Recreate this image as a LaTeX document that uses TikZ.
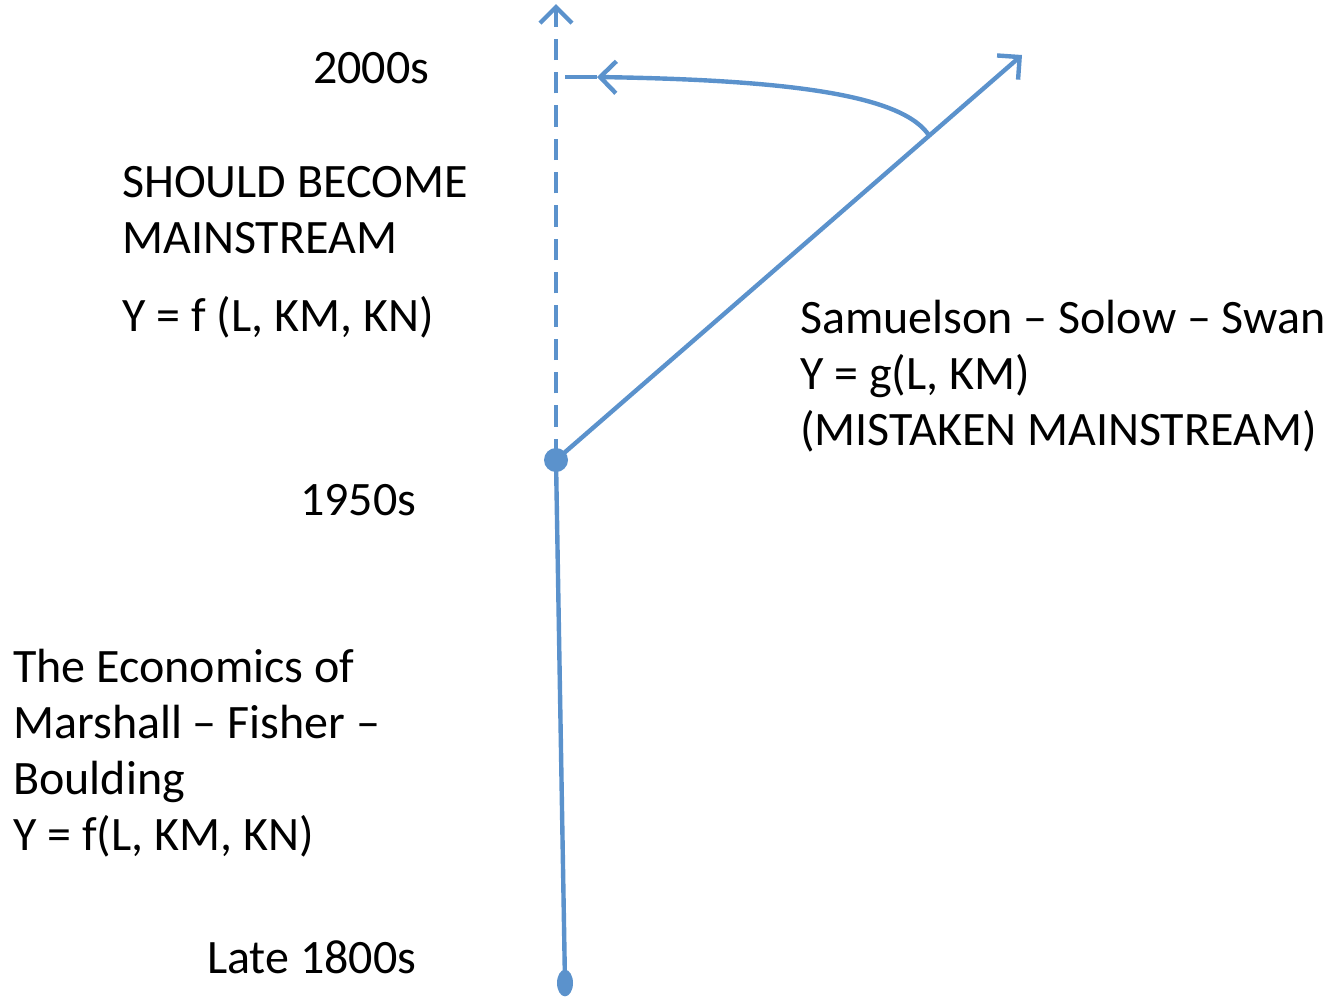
\documentclass[tikz,border=0pt]{standalone}
\usepackage{fontspec}
\setmainfont{Carlito}
\usepackage{xcolor}
\usetikzlibrary{positioning}
\usetikzlibrary{arrows.meta}
\definecolor{lineblue}{RGB}{91,146,204}

\begin{document}
\begin{tikzpicture}[x=0.75pt,y=-0.75pt,
  every node/.style={font=\fontsize{36}{42}\selectfont, inner sep=0pt, align=left},
  era/.style={line width=3.3pt, draw=lineblue},
  tip/.style={-{Straight Barb[length=12pt,width=24pt,line width=3.3pt]}}]
  \useasboundingbox (0,0) rectangle (1336,1001);
  % points of the time line
  \coordinate(start) at (565,983);
  \coordinate(split) at (556,460);
  \coordinate(top) at (556,4);
  \coordinate(mistake) at (1022,55);
  \coordinate(turn) at (930,137);
  \coordinate(back) at (597,77);
  \coordinate(gap) at (565,77);
  % labels (base = last line)
  \node(late) [anchor=base west] at (207,973) {Late 1800s};
  \node(fifty) [anchor=base west] at (300,515) {1950s};
  \node(twok) [anchor=base west] at (313,83) {2000s};
  \node(old) [anchor=base west] at (13,850) {The Economics of\\Marshall -- Fisher --\\Boulding\\Y = f(L, KM, KN)};
  \node(should) [anchor=base west] at (122,253) {SHOULD BECOME\\MAINSTREAM};
  \node(fgood) [anchor=base west] at (122,331) {Y = f (L, KM, KN)};
  \node(sss) [anchor=base west] at (800,445) {Samuelson -- Solow -- Swan\\Y = g(L, KM)\\(MISTAKEN MAINSTREAM)};
  % lines
  \draw[era] (start) -- (split);
  \fill[lineblue] (start) ellipse [x radius=6pt, y radius=10pt];
  \fill[lineblue] (split) circle [radius=9pt];
  \draw[era, tip, dash pattern=on 16pt off 9pt] (split) -- (top);
  \draw[era, tip] (split) -- (mistake);
  \draw[era, tip] (turn) .. controls (905,95) and (790,80) .. (back);
  \draw[era] (gap) -- (back);
\end{tikzpicture}
\end{document}
